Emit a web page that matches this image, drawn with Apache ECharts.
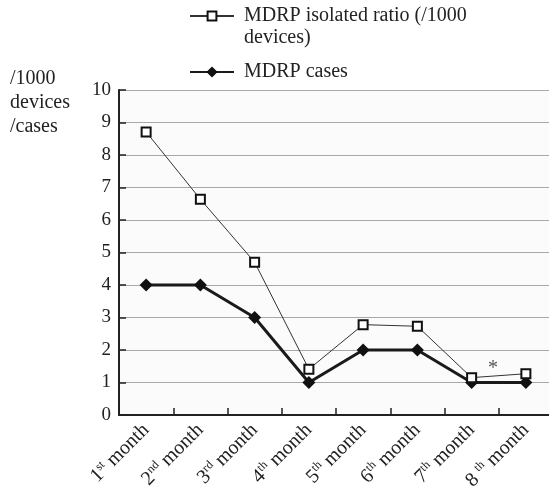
<!DOCTYPE html>
<html>
<head>
<meta charset="utf-8">
<script src="https://cdn.jsdelivr.net/npm/echarts@6/dist/echarts.min.js"></script>
<style>html,body{margin:0;padding:0;background:#fff;}#c{width:549px;height:486px;}</style>
</head>
<body>
<div id="c"></div>
<script>
var categories = ['1st month','2nd month','3rd month','4th month','5th month','6th month','7th month','8 th month'];
var ratioName = 'MDRP isolated ratio (/1000 devices)';
var casesName = 'MDRP cases';
var ratioValues = [8.71, 6.64, 4.70, 1.41, 2.78, 2.73, 1.15, 1.27];
var casesValues = [4, 4, 3, 1, 2, 2, 1, 1];
var yTicks = [0, 10, 1];
var yAxisTitle = '/1000\ndevices\n/cases';
var noteText = '*';

var FONT = '"Liberation Serif", "DejaVu Serif", serif';
var chart = echarts.init(document.getElementById('c'), null, {renderer: 'canvas'});

chart.setOption({
  backgroundColor: '#ffffff',
  animation: false,
  textStyle: {fontFamily: FONT, color: '#222'},
  grid: {left: 119, top: 90, right: -4, bottom: 71, show: true, backgroundColor: '#fbfbfb', borderWidth: 0,
         containLabel: false, outerBoundsMode: 'none'},
  legend: [{
    data: [ratioName],
    orient: 'vertical',
    left: 189, top: -17, padding: 0,
    itemWidth: 44, itemHeight: 11,
    formatter: function () { return '\nMDRP isolated ratio (/1000\ndevices)'; },
    textStyle: {fontFamily: FONT, fontSize: 20, color: '#222', lineHeight: 22, padding: [0, 0, 0, 5]}
  }, {
    data: [casesName],
    orient: 'vertical',
    left: 189, top: 61, padding: 0,
    itemWidth: 44, itemHeight: 14,
    textStyle: {fontFamily: FONT, fontSize: 20, color: '#222', lineHeight: 22, padding: [0, 0, 0, 5]}
  }],
  xAxis: {
    type: 'category',
    data: categories,
    boundaryGap: true,
    axisLine: {lineStyle: {color: '#222', width: 2}},
    axisTick: {show: true, inside: true, length: 7, lineStyle: {color: '#222', width: 1.5}},
    splitLine: {show: false},
    axisLabel: {
      rotate: 45, margin: 12, interval: 0, color: '#222',
      formatter: function (v) {
        var m = v.match(/^(\d+\s?)(st|nd|rd|th)(.*)$/);
        if (!m) return '{a|' + v + '}';
        return '{a|' + m[1] + '}{s|' + m[2] + '}{a|' + m[3] + '}';
      },
      rich: {
        a: {fontFamily: FONT, fontSize: 20, color: '#222', lineHeight: 22},
        s: {fontFamily: FONT, fontSize: 12, color: '#222', lineHeight: 22, verticalAlign: 'top', padding: [0, 0, 8, 0]}
      }
    }
  },
  yAxis: {
    type: 'value',
    min: yTicks[0], max: yTicks[1], interval: yTicks[2],
    axisLine: {show: true, lineStyle: {color: '#222', width: 2}},
    axisTick: {show: true, inside: true, length: 7, lineStyle: {color: '#222', width: 1.5}},
    axisLabel: {fontFamily: FONT, fontSize: 19, color: '#222', margin: 8},
    splitLine: {show: true, lineStyle: {color: '#a8a8a8', width: 1.2}}
  },
  series: [{
    name: casesName,
    type: 'line',
    data: casesValues,
    symbol: 'diamond',
    symbolSize: 13,
    itemStyle: {color: '#111'},
    lineStyle: {color: '#1a1a1a', width: 3},
    z: 2
  }, {
    name: ratioName,
    type: 'line',
    data: ratioValues,
    symbol: 'rect',
    symbolSize: 9,
    itemStyle: {color: '#ffffff', borderColor: '#111', borderWidth: 2},
    lineStyle: {color: '#333', width: 1},
    z: 3
  }],
  graphic: [{
    type: 'text', left: 10, top: 67,
    style: {text: yAxisTitle, fontFamily: FONT, fontSize: 20, lineHeight: 24, fill: '#222'}
  }, {
    type: 'text', x: 493, y: 369,
    style: {text: noteText, fontFamily: FONT, fontSize: 20, fill: '#555', align: 'center', verticalAlign: 'middle'}
  }]
});
</script>
</body>
</html>
